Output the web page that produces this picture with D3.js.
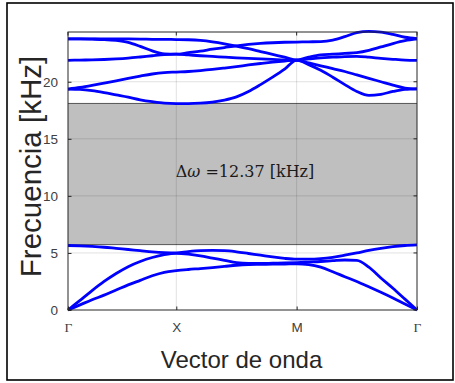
<!DOCTYPE html>
<html>
<head>
<meta charset="utf-8">
<script src="https://cdn.jsdelivr.net/npm/d3@7"></script>
<style>
  html, body { margin: 0; padding: 0; background: #fff; }
  svg { display: block; }
</style>
</head>
<body>
<svg id="chart" width="455" height="383"></svg>
<script>
// ---- data ----
const kIndex = d3.range(0, 30); // k-point index along Γ-X-M-Γ
const kTickValues = [0, 9, 19, 29];
const kTickLabels = ["Γ", "X", "M", "Γ"];
const yTickValues = [0, 5, 10, 15, 20];
const gapLow = 5.73;
const gapHigh = 18.10;
const gapLabel = "12.37";

const band1 = [0, 0.45, 0.9, 1.3, 1.75, 2.2, 2.6, 3.0, 3.3, 3.45,
  3.55, 3.63, 3.72, 3.82, 3.92, 3.98, 4.0, 4.02, 4.03, 4.05,
  3.98, 3.75, 3.35, 2.92, 2.5, 2.03, 1.55, 1.05, 0.52, 0];
const band2 = [0, 0.85, 1.7, 2.5, 3.2, 3.8, 4.25, 4.6, 4.85, 4.97,
  4.9, 4.75, 4.55, 4.35, 4.15, 4.08, 4.08, 4.1, 4.12, 4.15,
  4.2, 4.25, 4.32, 4.38, 4.35, 3.75, 2.8, 1.9, 0.95, 0];
const band3 = [5.65, 5.62, 5.57, 5.5, 5.4, 5.3, 5.2, 5.1, 5.03, 5.0,
  5.12, 5.2, 5.22, 5.2, 5.1, 4.95, 4.8, 4.65, 4.52, 4.45,
  4.45, 4.5, 4.62, 4.8, 5.0, 5.22, 5.4, 5.55, 5.65, 5.7];
const band4 = [19.36, 19.33, 19.22, 19.05, 18.85, 18.65, 18.42, 18.25, 18.12, 18.08,
  18.08, 18.12, 18.22, 18.4, 18.68, 19.15, 19.75, 20.4, 21.1, 21.9,
  21.5, 21.0, 20.4, 19.75, 19.15, 18.8, 18.9, 19.15, 19.33, 19.38];
const band5 = [19.36, 19.5, 19.68, 19.88, 20.08, 20.3, 20.5, 20.68, 20.8, 20.85,
  20.9, 20.98, 21.08, 21.2, 21.33, 21.47, 21.6, 21.72, 21.82, 21.9,
  21.65, 21.4, 21.15, 20.9, 20.6, 20.3, 20.0, 19.7, 19.45, 19.38];
const band6 = [21.88, 21.9, 21.92, 21.95, 22.0, 22.07, 22.17, 22.28, 22.38, 22.42,
  22.35, 22.28, 22.22, 22.16, 22.1, 22.05, 22.0, 21.96, 21.92, 21.9,
  22.0, 22.1, 22.15, 22.2, 22.22, 22.15, 22.05, 21.97, 21.9, 21.87];
const band7 = [23.75, 23.75, 23.73, 23.7, 23.62, 23.45, 23.1, 22.7, 22.45, 22.42,
  22.55, 22.68, 22.85, 23.0, 23.15, 23.27, 23.36, 23.42, 23.46, 23.48,
  23.5, 23.52, 23.65, 23.95, 24.3, 24.42, 24.35, 24.15, 23.9, 23.77];
const band8 = [23.75, 23.76, 23.76, 23.76, 23.75, 23.75, 23.74, 23.72, 23.71, 23.7,
  23.68, 23.62, 23.5, 23.33, 23.12, 22.9, 22.65, 22.4, 22.15, 21.9,
  22.15, 22.35, 22.42, 22.48, 22.55, 22.75, 23.05, 23.35, 23.6, 23.75];
const bands = [band1, band2, band3, band4, band5, band6, band7, band8];

// ---- layout ----
const L = 68, R = 417, T = 32, B = 310;
const svg = d3.select("#chart");
const x = d3.scaleLinear().domain([0, 29]).range([L, R]);
const y = d3.scaleLinear().domain([0, 24.36]).range([B, T]);
const axisColor = "#262626";

// outer frame
svg.append("rect").attr("x", 7).attr("y", 3).attr("width", 446).attr("height", 377)
  .attr("fill", "#fff").attr("stroke", "#000").attr("stroke-width", 1.6);

// plot background
svg.append("rect").attr("x", L).attr("y", T).attr("width", R - L).attr("height", B - T)
  .attr("fill", "#fff");

// band gap
svg.append("rect")
  .attr("x", x(0)).attr("width", x(29) - x(0))
  .attr("y", y(gapHigh)).attr("height", y(gapLow) - y(gapHigh))
  .attr("fill", "#bfbfbf");
svg.append("line").attr("x1", x(0)).attr("x2", x(29)).attr("y1", y(gapHigh)).attr("y2", y(gapHigh))
  .attr("stroke", "#555").attr("stroke-width", 1);
svg.append("line").attr("x1", x(0)).attr("x2", x(29)).attr("y1", y(gapLow)).attr("y2", y(gapLow))
  .attr("stroke", "#555").attr("stroke-width", 1);

// grid
const grid = svg.append("g").attr("stroke", "#000").attr("stroke-opacity", 0.12).attr("stroke-width", 1);
kTickValues.slice(1, -1).forEach(v => {
  grid.append("line").attr("x1", x(v)).attr("x2", x(v)).attr("y1", T).attr("y2", B);
});
yTickValues.slice(1).forEach(v => {
  grid.append("line").attr("x1", L).attr("x2", R).attr("y1", y(v)).attr("y2", y(v));
});

// gap text
const gt = svg.append("text")
  .attr("x", 245).attr("y", 177)
  .attr("text-anchor", "middle")
  .attr("font-family", "'DejaVu Serif', 'Liberation Serif', serif")
  .attr("font-size", 16)
  .attr("fill", "#1a1a1a");
gt.append("tspan").text("Δ");
gt.append("tspan").attr("font-style", "italic").text("ω");
gt.append("tspan").text(" =" + gapLabel + "  [kHz]");

// bands
const line = d3.line().x((d, i) => x(kIndex[i])).y(d => y(d)).curve(d3.curveMonotoneX);
svg.append("g").selectAll("path").data(bands).join("path")
  .attr("d", line)
  .attr("fill", "none")
  .attr("stroke", "#0000ff")
  .attr("stroke-width", 2.8)
  .attr("stroke-linejoin", "round");

// axes box
svg.append("rect").attr("x", L).attr("y", T).attr("width", R - L).attr("height", B - T)
  .attr("fill", "none").attr("stroke", axisColor).attr("stroke-width", 1);

// y axis
const yAxis = d3.axisLeft(y).tickValues(yTickValues).tickSizeInner(-3.5).tickSizeOuter(0).tickPadding(10);
const gy = svg.append("g").attr("transform", `translate(${L},0)`).call(yAxis);
gy.select(".domain").remove();
gy.selectAll("line").attr("stroke", axisColor);
gy.selectAll("text").attr("font-family", "'Liberation Sans', Arial, sans-serif")
  .attr("font-size", 13.5).attr("fill", "#404040");
// right ticks
yTickValues.forEach(v => {
  svg.append("line").attr("x1", R).attr("x2", R - 3.5).attr("y1", y(v)).attr("y2", y(v))
    .attr("stroke", axisColor);
});

// x axis
const xAxis = d3.axisBottom(x).tickValues(kTickValues).tickSizeInner(-3.5).tickSizeOuter(0)
  .tickPadding(12).tickFormat((d, i) => kTickLabels[i]);
const gx = svg.append("g").attr("transform", `translate(0,${B})`).call(xAxis);
gx.select(".domain").remove();
gx.selectAll("line").attr("stroke", axisColor);
gx.selectAll("text")
  .attr("font-family", (d, i) => kTickLabels[i] === "Γ" ? "'Liberation Serif', serif" : "'Liberation Sans', Arial, sans-serif")
  .attr("font-size", 13.5).attr("fill", "#404040");
kTickValues.forEach(v => {
  svg.append("line").attr("x1", x(v)).attr("x2", x(v)).attr("y1", T).attr("y2", T + 3.5)
    .attr("stroke", axisColor);
});

// axis labels
svg.append("text")
  .attr("x", 241.5).attr("y", 368)
  .attr("text-anchor", "middle")
  .attr("font-family", "'Liberation Sans', Arial, sans-serif")
  .attr("font-size", 24)
  .attr("fill", "#262626")
  .text("Vector de onda");
svg.append("text")
  .attr("transform", "translate(41,166.5) rotate(-90)")
  .attr("text-anchor", "middle")
  .attr("font-family", "'Liberation Sans', Arial, sans-serif")
  .attr("font-size", 29.5)
  .attr("fill", "#262626")
  .text("Frecuencia [kHz]");
</script>
</body>
</html>
